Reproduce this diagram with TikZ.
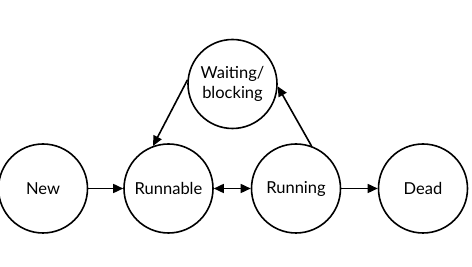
\documentclass[tikz,border=0pt]{standalone}
\usepackage{fontspec}
\setmainfont{Lato}
\usepackage{tikz}
\usetikzlibrary{arrows.meta, positioning}

\begin{document}
\begin{tikzpicture}[x=1pt, y=1pt,
    state/.style={draw, circle, line width=1.6pt, minimum size=89pt, inner sep=0pt, align=center, font=\fontsize{16.5}{20}\selectfont},
    trans/.style={line width=1.6pt, -{Triangle[length=10pt, width=9pt]}}]
    % frame: 472 x 267, origin bottom left
    \useasboundingbox (0,0) rectangle (472,267);
    % thread states
    \node[state] (new) at (43,78.5) {New};
    \node[state] (runnable) at (168.5,78.5) {Runnable};
    \node[state] (running) at (296,78.5) {Running};
    \node[state] (dead) at (423,78.5) {Dead};
    \node[state] (waiting) at (232.5,183) {Waiting/\\blocking};
    % transitions
    \draw[trans] (new) -- (runnable);
    \draw[line width=1.6pt, {Triangle[length=10pt, width=9pt]}-{Triangle[length=10pt, width=9pt]}] (runnable) -- (running);
    \draw[trans] (running) -- (dead);
    \draw[trans] (waiting.175) -- (runnable.110);
    \draw[trans] (running.70) -- (waiting.-3);
\end{tikzpicture}
\end{document}
